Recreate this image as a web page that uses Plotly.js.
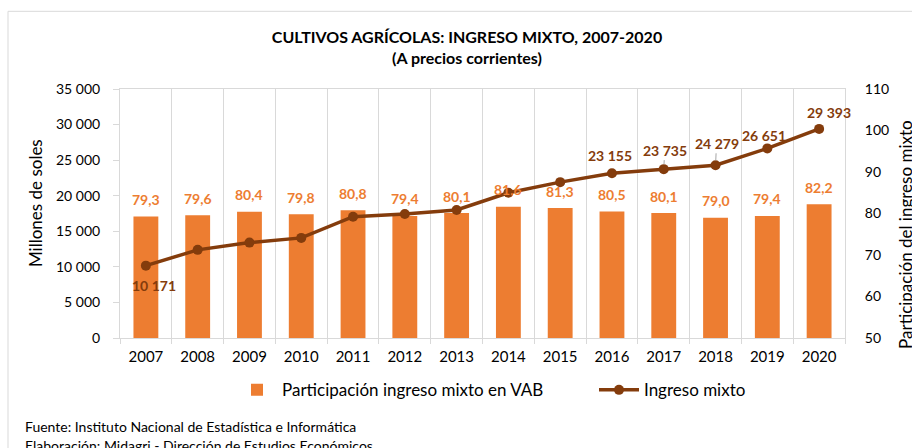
<!DOCTYPE html>
<html>
<head>
<meta charset="utf-8">
<script src="https://cdn.plot.ly/plotly-3.0.1.min.js"></script>
<style>html,body{margin:0;padding:0;background:#fff;}#chart{width:912px;height:448px;}</style>
</head>
<body>
<div id="chart"></div>
<script>
// ---- data ----
const years = ['2007','2008','2009','2010','2011','2012','2013','2014','2015','2016','2017','2018','2019','2020'];
const participacion = [79.3, 79.6, 80.4, 79.8, 80.8, 79.4, 80.1, 81.6, 81.3, 80.5, 80.1, 79.0, 79.4, 82.2];
const ingresoMixto = [10171, 12390, 13410, 14070, 17050, 17430, 17990, 20410, 21910, 23155, 23735, 24279, 26651, 29393];
const labelledYears = ['2007','2016','2017','2018','2019','2020'];
const leftTicks = [0, 5000, 10000, 15000, 20000, 25000, 30000, 35000];
const rightTicks = [50, 60, 70, 80, 90, 100, 110];

const FONT = 'Lato, "Open Sans", sans-serif';
const ORANGE = '#ED7D31';
const BROWN = '#843C0C';
const GRID = '#d9d9d9';

function fmtThousands(v) {
  return String(Math.round(v)).replace(/\B(?=(\d{3})+(?!\d))/g, ' ');
}
function fmtDec(v) { return v.toFixed(1).replace('.', ','); }

const barTrace = {
  type: 'bar', x: years, y: participacion, yaxis: 'y',
  name: 'Participación ingreso mixto en VAB', legend: 'legend',
  marker: {color: ORANGE}, hoverinfo: 'x+y'
};
const lineTrace = {
  type: 'scatter', mode: 'lines+markers', x: years, y: ingresoMixto, yaxis: 'y2',
  name: 'Ingreso mixto', legend: 'legend2',
  line: {color: BROWN, width: 3.5}, marker: {color: BROWN, size: 10}
};

const annotations = [];
// bar labels (x given as category index)
years.forEach((yr, i) => {
  annotations.push({
    x: i, y: participacion[i], xref: 'x', yref: 'y',
    text: '<b>' + fmtDec(participacion[i]) + '</b>', showarrow: false,
    yshift: 17, font: {family: FONT, size: 14, color: ORANGE}
  });
});
// line labels: offsets (pixels) per labelled year
const lineLabelOffsets = {
  '2007': {ax: 8, ay: 20, arrow: false},
  '2016': {ax: -2, ay: -18, arrow: false},
  '2017': {ax: 1, ay: -19, arrow: true},
  '2018': {ax: 1, ay: -22, arrow: true},
  '2019': {ax: -3, ay: -13, arrow: false},
  '2020': {ax: 10, ay: -16, arrow: false}
};
labelledYears.forEach(yr => {
  const i = years.indexOf(yr);
  const o = lineLabelOffsets[yr];
  annotations.push({
    x: i, y: ingresoMixto[i], xref: 'x', yref: 'y2',
    text: '<b>' + fmtThousands(ingresoMixto[i]) + '</b>',
    showarrow: o.arrow, arrowhead: 0, arrowwidth: 1, arrowcolor: '#a6a6a6',
    standoff: 5, ax: o.ax, ay: o.ay,
    xshift: o.arrow ? 0 : o.ax, yshift: o.arrow ? 0 : -o.ay,
    font: {family: FONT, size: 14, color: BROWN}
  });
});
// axis titles
annotations.push({
  xref: 'paper', yref: 'paper', x: (35 - 120) / 725, y: (338.5 - 203) / 250,
  text: 'Millones de soles', textangle: -90, showarrow: false,
  xanchor: 'center', yanchor: 'middle', font: {family: FONT, size: 17, color: '#000'}
});
annotations.push({
  xref: 'paper', yref: 'paper', x: (906 - 120) / 725, y: (338.5 - 235) / 250,
  text: 'Participación del ingreso mixto', textangle: -90, showarrow: false,
  xanchor: 'center', yanchor: 'middle', font: {family: FONT, size: 17, color: '#000'}
});
// footnotes
annotations.push({
  xref: 'paper', yref: 'paper', x: (23 - 120) / 725, y: (338.5 - 427) / 250,
  text: 'Fuente: Instituto Nacional de Estadística e Informática', showarrow: false,
  xanchor: 'left', yanchor: 'middle', font: {family: FONT, size: 14, color: '#000'}
});
annotations.push({
  xref: 'paper', yref: 'paper', x: (23 - 120) / 725, y: (338.5 - 446) / 250,
  text: 'Elaboración: Midagri - Dirección de Estudios Económicos', showarrow: false,
  xanchor: 'left', yanchor: 'middle', font: {family: FONT, size: 14, color: '#000'}
});

const legendBase = {
  orientation: 'h', xanchor: 'left', yanchor: 'middle',
  y: (338.5 - 391) / 250,
  font: {family: FONT, size: 17, color: '#000'},
  itemwidth: 40, bgcolor: 'rgba(0,0,0,0)'
};

const layout = {
  width: 912, height: 448,
  margin: {l: 120, r: 67, t: 88.5, b: 109.5, pad: 0},
  paper_bgcolor: '#fff', plot_bgcolor: '#fff',
  separators: ', ',
  font: {family: FONT, size: 14, color: '#000'},
  title: {
    text: '<b>CULTIVOS AGRÍCOLAS: INGRESO MIXTO, 2007-2020</b><br><b>(A precios corrientes)</b>',
    font: {family: FONT, size: 16, color: '#000'},
    xref: 'container', x: 467 / 912, xanchor: 'center',
    yref: 'container', y: 1 - 43 / 448, yanchor: 'top'
  },
  showlegend: true,
  legend: Object.assign({}, legendBase, {x: (232 - 120) / 725}),
  legend2: Object.assign({}, legendBase, {x: (594 - 120) / 725}),
  bargap: 0.52,
  xaxis: {
    type: 'category', range: [-0.5, years.length - 0.5], autorange: false,
    tickson: 'boundaries', showgrid: true, gridcolor: GRID, gridwidth: 1,
    showline: true, linecolor: GRID, linewidth: 1, mirror: true,
    ticks: 'outside', ticklen: 5, tickcolor: GRID, tickangle: 0,
    tickfont: {family: FONT, size: 15, color: '#000'}, ticklabelstandoff: 5,
    zeroline: false, fixedrange: true
  },
  yaxis: {
    side: 'right', range: [50, 110], autorange: false, tickvals: rightTicks,
    showgrid: false, zeroline: false, showline: true, linecolor: GRID, ticks: '',
    tickfont: {family: FONT, size: 14, color: '#000'}, ticklabelstandoff: 16
  },
  yaxis2: {
    overlaying: 'y', side: 'left', range: [0, 35000], autorange: false, tickvals: leftTicks,
    tickformat: ',d', separatethousands: true,
    showgrid: false, zeroline: false, showline: true, linecolor: GRID,
    ticks: 'outside', ticklen: 6, tickcolor: GRID,
    tickfont: {family: FONT, size: 14, color: '#000'}, ticklabelstandoff: 10
  },
  annotations: annotations,
  shapes: [{
    type: 'rect', xref: 'paper', yref: 'paper', layer: 'below',
    x0: (8 - 120) / 725, x1: (1000 - 120) / 725,
    y0: (338.5 - 520) / 250, y1: (338.5 - 10.5) / 250,
    line: {color: GRID, width: 1}, fillcolor: 'rgba(0,0,0,0)'
  }]
};

Plotly.newPlot('chart', [barTrace, lineTrace], layout, {displayModeBar: false, staticPlot: true});
</script>
</body>
</html>
